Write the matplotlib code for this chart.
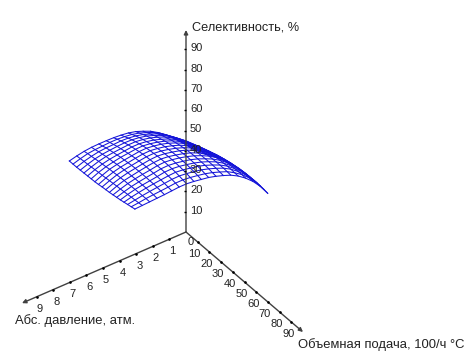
import numpy as np
from matplotlib import pyplot as plt

plt.rcParams['font.family'] = ['Liberation Sans', 'DejaVu Sans']

pressure = np.linspace(1, 9, 19)
feed = np.linspace(28, 84, 19)
# selectivity, one row per pressure step
selectivity = np.array([
    [56.0,57.1,58.3,59.2,60.1,60.9,61.7,62.3,63.0,63.4,63.8,64.1,64.3,64.5,64.5,64.6,64.5,64.3,64.0],
    [59.6,60.8,61.9,63.0,64.0,64.8,65.6,66.4,67.1,67.6,68.1,68.4,68.8,69.0,69.2,69.2,69.3,69.2,69.0],
    [63.2,64.4,65.6,66.6,67.6,68.5,69.3,70.0,70.8,71.3,71.8,72.2,72.5,72.9,73.0,73.2,73.2,73.2,73.0],
    [66.8,68.0,69.0,70.1,71.0,71.9,72.7,73.4,74.1,74.6,75.1,75.4,75.9,76.1,76.2,76.3,76.4,76.4,76.2],
    [70.4,71.5,72.5,73.5,74.4,75.1,75.9,76.6,77.1,77.6,78.1,78.4,78.7,78.9,79.0,79.1,79.1,78.9,78.8],
    [73.2,74.2,75.2,76.2,77.0,77.7,78.4,79.1,79.6,80.0,80.4,80.7,81.0,81.1,81.2,81.2,81.2,81.0,80.8],
    [75.8,76.8,77.7,78.6,79.3,80.0,80.6,81.2,81.6,82.0,82.4,82.6,82.8,82.8,82.9,82.8,82.7,82.4,82.2],
    [78.0,78.9,79.8,80.6,81.3,81.9,82.5,83.0,83.4,83.7,84.0,84.2,84.3,84.3,84.3,84.2,84.0,83.7,83.4],
    [79.6,80.5,81.3,82.1,82.8,83.3,83.9,84.4,84.7,85.0,85.3,85.4,85.5,85.5,85.4,85.3,85.1,84.7,84.4],
    [81.0,81.8,82.6,83.4,84.0,84.5,85.0,85.5,85.8,86.0,86.2,86.3,86.4,86.3,86.2,86.0,85.8,85.4,85.0],
    [81.9,82.7,83.5,84.2,84.8,85.3,85.8,86.2,86.5,86.8,87.0,87.1,87.1,87.0,86.9,86.7,86.4,86.0,85.6],
    [82.4,83.2,84.0,84.7,85.3,85.8,86.3,86.7,87.0,87.2,87.4,87.5,87.5,87.4,87.3,87.1,86.8,86.4,86.0],
    [82.7,83.5,84.2,84.8,85.3,85.8,86.2,86.6,86.9,87.1,87.2,87.3,87.3,87.3,87.2,86.9,86.7,86.4,86.0],
    [82.8,83.5,84.0,84.6,85.0,85.4,85.8,86.1,86.4,86.6,86.7,86.8,86.7,86.7,86.6,86.5,86.3,86.0,85.7],
    [82.8,83.3,83.9,84.3,84.7,85.0,85.4,85.6,85.8,86.0,86.1,86.2,86.2,86.2,86.1,86.1,85.9,85.7,85.4],
    [82.7,83.1,83.6,83.9,84.3,84.5,84.7,85.0,85.2,85.4,85.5,85.5,85.6,85.6,85.6,85.6,85.5,85.4,85.2],
    [82.3,82.7,82.9,83.2,83.5,83.7,83.9,84.2,84.3,84.5,84.6,84.8,84.8,84.9,85.0,85.0,85.0,85.1,85.0],
    [81.6,81.8,82.0,82.1,82.3,82.5,82.7,82.8,83.0,83.2,83.4,83.6,83.7,83.9,84.1,84.3,84.4,84.6,84.8],
    [80.7,80.7,80.7,80.8,80.9,81.0,81.1,81.2,81.4,81.7,81.9,82.1,82.4,82.7,83.0,83.4,83.8,84.2,84.6],
])

pressure_ticks = [1, 2, 3, 4, 5, 6, 7, 8, 9]
feed_ticks = [0, 10, 20, 30, 40, 50, 60, 70, 80, 90]
select_ticks = [10, 20, 30, 40, 50, 60, 70, 80, 90]

def project(p, v, z):
    # oblique projection to figure pixels
    p, v, z = np.broadcast_arrays(np.asarray(p, float), np.asarray(v, float), np.asarray(z, float))
    return 186 - 16.6 * p + 1.17 * v, 232 + 7.2 * p + 1.0 * v - 2.03 * z

fig = plt.figure(figsize=(4.73, 3.6), dpi=100)
ax = fig.add_axes([0, 0, 1, 1])
ax.set_xlim(0, 473)
ax.set_ylim(360, 0)
ax.axis('off')

# wireframe
P, V = np.meshgrid(pressure, feed, indexing='ij')
X, Y = project(P, V, selectivity)
ax.plot(X, Y, color='#1414d8', lw=0.75, zorder=2)
ax.plot(X.T, Y.T, color='#1414d8', lw=0.75, zorder=2)

# axes with arrows
tips = [(9.88, 0, 0), (0, 100, 0), (0, 0, 99.5)]
for tip in tips:
    ax.annotate('', xy=project(*tip), xytext=project(0, 0, 0), zorder=3,
                arrowprops=dict(arrowstyle='-|>', color='#404040', lw=1, mutation_scale=6,
                                shrinkA=0, shrinkB=0))

px, py = project(pressure_ticks, 0, 0)
ax.plot(px, py, ls='none', marker='.', ms=1.8, color='k', zorder=4)
for t, x, y in zip(pressure_ticks, px, py):
    ax.text(x + 3, y + 12, str(t), fontsize=8, color='#222222', ha='center', va='center')

fx, fy = project(0, feed_ticks, 0)
ax.plot(fx[1:], fy[1:], ls='none', marker='.', ms=1.8, color='k', zorder=4)
for t, x, y in zip(feed_ticks, fx, fy):
    dx, dy = (5, 10) if t == 0 else (-3, 12)
    ax.text(x + dx, y + dy, str(t), fontsize=8, color='#222222', ha='center', va='center')

sx, sy = project(0, 0, select_ticks)
ax.plot(sx - 1, sy, ls='none', marker='_', ms=2, mew=1, color='k', zorder=4)
for t, x, y in zip(select_ticks, sx, sy):
    ax.text(x + 4, y - 1, str(t), fontsize=8, color='#222222', ha='left', va='center', zorder=5)

ax.text(192, 28, 'Селективность, %', fontsize=9.2, color='#222222', va='center')
ax.text(15, 321, 'Абс. давление, атм.', fontsize=9.4, color='#222222', va='center')
ax.text(298, 345, 'Объемная подача, 100/ч °C', fontsize=9.4, color='#222222', va='center')

fig.savefig('out.png', dpi=100)
